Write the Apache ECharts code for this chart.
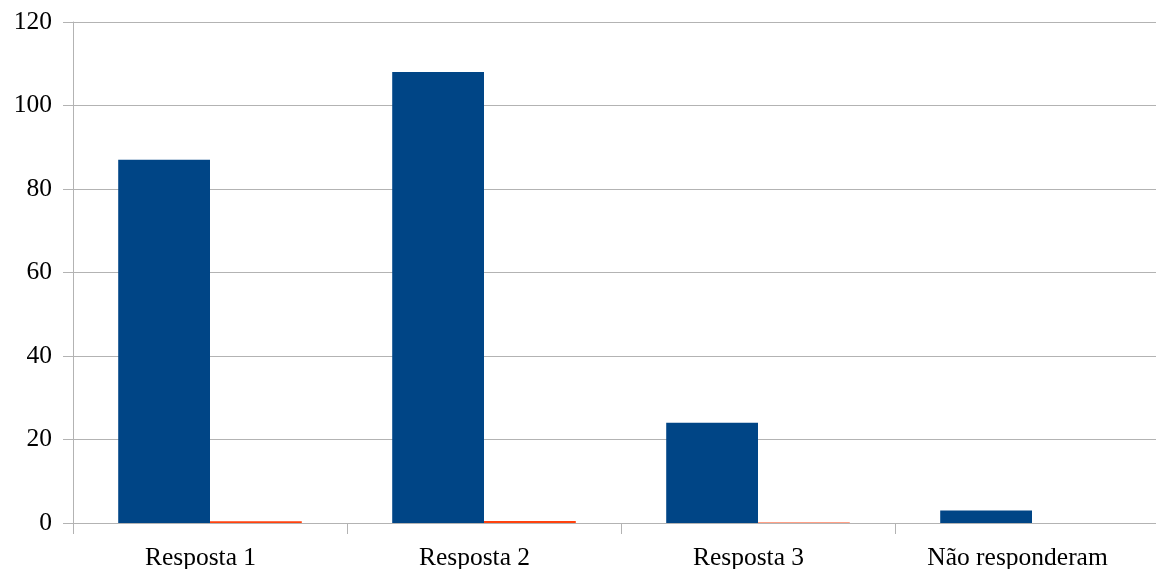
<!DOCTYPE html>
<html><head><meta charset="utf-8">
<script src="https://cdn.jsdelivr.net/npm/echarts@6/dist/echarts.min.js"></script>
<style>html,body{margin:0;padding:0;background:#fff}#c{width:1156px;height:569px}</style>
</head><body><div id="c"></div>
<script>
const categories = ['Resposta 1', 'Resposta 2', 'Resposta 3', 'Não responderam'];
const seriesCount = [87, 108, 24, 3];
const seriesShare = [0.39, 0.49, 0.11, 0.01];
const yTicks = { min: 0, max: 120, interval: 20 };

const chart = echarts.init(document.getElementById('c'), null, { renderer: 'canvas' });
const font = 'Liberation Serif, Times New Roman, serif';
// labels in the reference sit slightly left of category centre (proportional to text length)
const xData = categories.map(c => ({ value: c, textStyle: { padding: [0, Math.round(c.length * 1.9), 0, 0] } }));
chart.setOption({
  animation: false,
  backgroundColor: '#fff',
  grid: { left: 73, top: 22, right: -13, bottom: 46, containLabel: false, outerBoundsMode: 'none' },
  xAxis: {
    type: 'category', data: xData,
    axisLine: { show: true, lineStyle: { color: '#b3b3b3', width: 1 } },
    axisTick: { show: true, length: 11, lineStyle: { color: '#b3b3b3' } },
    axisLabel: { color: '#000', fontFamily: font, fontSize: 25.5, margin: 22 },
    splitLine: { show: false }
  },
  yAxis: {
    type: 'value', min: yTicks.min, max: yTicks.max, interval: yTicks.interval,
    axisLine: { show: true, lineStyle: { color: '#b3b3b3', width: 1 } },
    axisTick: { show: true, length: 10, lineStyle: { color: '#b3b3b3' } },
    axisLabel: { color: '#000', fontFamily: font, fontSize: 25.5, margin: 21 },
    splitLine: { show: true, lineStyle: { color: '#b3b3b3', width: 1 } }
  },
  series: [
    { type: 'bar', data: seriesCount, itemStyle: { color: '#004586' }, barGap: '0%', barCategoryGap: '33%' },
    { type: 'bar', data: seriesShare, itemStyle: { color: '#ff420e' }, barGap: '0%', barCategoryGap: '33%' }
  ]
});
</script></body></html>
